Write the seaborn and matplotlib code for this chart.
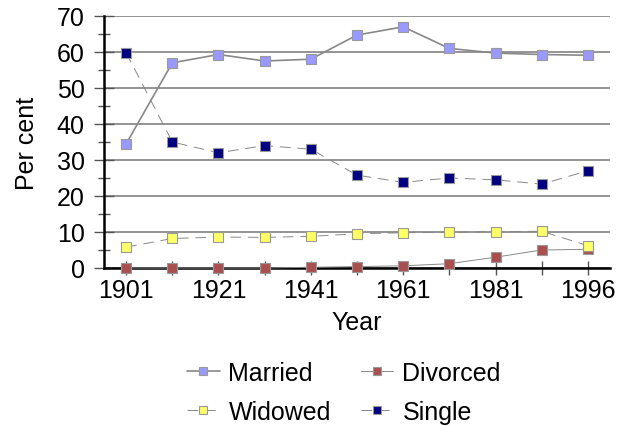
import numpy as np
import pandas as pd
import matplotlib
matplotlib.use("Agg")
import matplotlib.pyplot as plt
import seaborn as sns

years = [1901, 1911, 1921, 1931, 1941, 1951, 1961, 1971, 1981, 1991, 1996]
married = [34.5, 57.0, 59.3, 57.5, 58.0, 64.7, 67.0, 61.0, 59.7, 59.3, 59.1]
divorced = [0.0, 0.0, 0.0, 0.0, 0.2, 0.4, 0.6, 1.2, 3.0, 5.0, 5.2]
widowed = [5.8, 8.2, 8.6, 8.5, 8.8, 9.5, 9.8, 9.9, 10.1, 10.2, 6.2]
single = [59.8, 35.0, 32.0, 34.0, 33.0, 25.8, 23.8, 25.0, 24.5, 23.3, 27.0]
tick_years = [1901, 1921, 1941, 1961, 1981, 1996]

sns.set_style("white")
plt.rcParams['font.family'] = ['Liberation Sans', 'DejaVu Sans']
plt.rcParams['text.color'] = 'black'
plt.rcParams['axes.labelcolor'] = 'black'
plt.rcParams['xtick.labelcolor'] = 'black'
plt.rcParams['ytick.labelcolor'] = 'black'

fig = plt.figure(figsize=(6.3, 4.27), dpi=100)
ax = fig.add_axes([104 / 630, 1 - 269 / 427, 506 / 630, 252 / 427])

pos = np.arange(len(years))
series = [
    ("Married", married, "#9999ff", "-", 1.2),
    ("Divorced", divorced, "#aa4f4f", "-", 0.7),
    ("Widowed", widowed, "#ffff66", (0, (11, 7)), 0.7),
    ("Single", single, "#000080", (0, (11, 7)), 0.7),
]
for name, vals, col, ls, lw in series:
    df = pd.DataFrame({"x": pos, "v": vals})
    sns.lineplot(data=df, x="x", y="v", ax=ax, color="#888888", linestyle=ls,
                 linewidth=lw, marker="s", markersize=7.5, markerfacecolor=col,
                 markeredgecolor="#999999", markeredgewidth=0.8, label=name,
                 clip_on=False, zorder=3)

ax.set_ylim(0, 70)
ax.set_xlim(-0.48, len(years) - 0.52)
ax.set_yticks(range(0, 71, 10))
ax.set_yticks(range(5, 70, 10), minor=True)
ax.yaxis.grid(True, color="#777777", linewidth=1.1)
ax.set_axisbelow(True)
ax.set_xticks(pos)
ax.set_xticklabels([str(y) if y in tick_years else "" for y in years])
ax.tick_params(axis="both", labelsize=18, width=1, color="#555555", direction="inout")
ax.tick_params(axis="y", which="major", length=14, pad=7, left=True)
ax.tick_params(axis="y", which="minor", length=9, width=1, color="#555555",
               direction="inout", left=True)
ax.tick_params(axis="x", length=10, pad=2, bottom=True)
for s in ["top", "right"]:
    ax.spines[s].set_visible(False)
ax.spines["left"].set_color("black")
ax.spines["left"].set_linewidth(1.8)
ax.spines["bottom"].set_color("black")
ax.spines["bottom"].set_linewidth(1.8)
ax.set_xlabel("Year", fontsize=18, labelpad=6)
ax.set_ylabel("Per cent", fontsize=18, labelpad=13)

h, l = ax.get_legend_handles_labels()
ax.get_legend().remove()
order = [0, 2, 1, 3]
fig.legend([h[i] for i in order], [l[i] for i in order], loc="upper left",
           bbox_to_anchor=(187 / 630, 1 - 362 / 427), ncol=2, frameon=False,
           borderpad=0, borderaxespad=0,
           fontsize=18, handlelength=1.3, handletextpad=0.36, columnspacing=1.2,
           labelspacing=0.6, markerscale=0.7)

fig.savefig("out.png", dpi=100)
